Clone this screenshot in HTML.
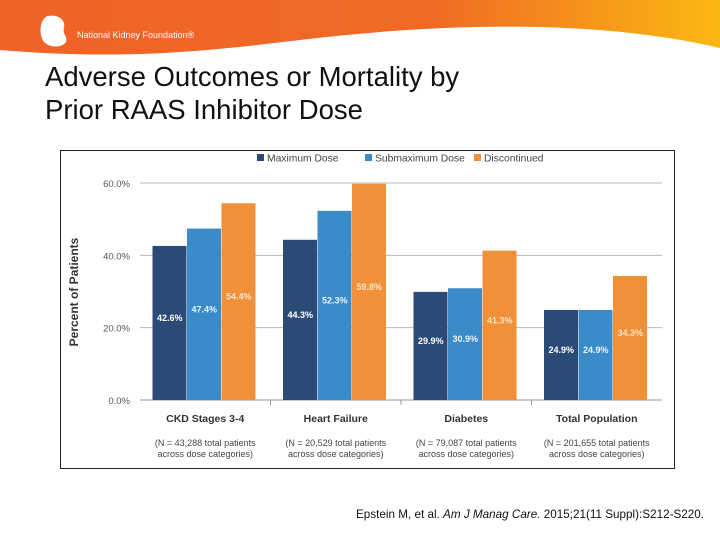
<!DOCTYPE html>
<html><head><meta charset="utf-8"><style>
body{margin:0;width:720px;height:540px;overflow:hidden;background:#fff;font-family:"Liberation Sans",sans-serif;position:relative}
.title{position:absolute;left:45px;top:60px;font-size:27.5px;line-height:33px;color:#111}
.cite{position:absolute;left:356px;top:508px;font-size:11.7px;color:#111}
</style></head><body>
<svg width="720" height="62" style="position:absolute;left:0;top:0">
<defs><linearGradient id="g" x1="0" x2="1"><stop offset="0" stop-color="#ef6326"/><stop offset="0.6" stop-color="#f06a25"/><stop offset="1" stop-color="#fbb812"/></linearGradient></defs>
<path d="M0 0H720V48C600 20 450 22 300 40C200 52 120 60 0 50Z" fill="url(#g)"/>
<path d="M48 16C58 14 66 20 64 28C62 34 68 36 66 42C62 48 50 48 44 42C38 34 40 18 48 16Z" fill="#fff"/>
<text x="77" y="38" font-size="9" fill="#fff" font-family="Liberation Sans, sans-serif">National Kidney Foundation®</text>
</svg>
<div class="title">Adverse Outcomes or Mortality by<br>Prior RAAS Inhibitor Dose</div>
<svg id="chart" width="720" height="540" style="position:absolute;left:0;top:0" font-family="Liberation Sans, sans-serif"></svg>
<div class="cite">Epstein M, et al. <i>Am J Manag Care.</i> 2015;21(11 Suppl):S212-S220.</div>
<script>
const categories=["CKD Stages 3-4","Heart Failure","Diabetes","Total Population"];
const subLabels=["(N = 43,288 total patients","(N = 20,529 total patients","(N = 79,087 total patients","(N = 201,655 total patients"];
const seriesNames=["Maximum Dose","Submaximum Dose","Discontinued"];
const maxDose=[42.6,44.3,29.9,24.9];
const subDose=[47.4,52.3,30.9,24.9];
const discontinued=[54.4,59.8,41.3,34.3];
const yTicks=[0,20,40,60];
const colors=["#2b4a75","#3a8bc8","#f0913a"];
const labelColors=["#fff","#eaf4ff","#fde3c8"];
const svg=document.getElementById('chart');
const NS="http://www.w3.org/2000/svg";
const x0=140,x1=662,yb=400,yt=183,ymax=60;
const y=v=>yb-(v/ymax)*(yb-yt);
const gw=(x1-x0)/categories.length;
function el(t,a,txt){const e=document.createElementNS(NS,t);for(const k in a)e.setAttribute(k,a[k]);if(txt!=null)e.textContent=txt;svg.appendChild(e);return e;}
let f=el('rect',{x:60.5,y:150.5,width:614,height:318,fill:'none',stroke:'#222','stroke-width':1});


yTicks.forEach(t=>{
  let l=el('line',{x1:x0,x2:x1,y1:y(t),y2:y(t),stroke:t?'#b8b8b8':'#999','stroke-width':1});
  
  
  let tx=el('text',{x:130,y:y(t)+4,'text-anchor':'end','font-size':9.5,fill:'#555'},t.toFixed(1)+'%');
  
  
});
let yt2=el('text',{x:78,y:292,'text-anchor':'middle','font-size':12,'font-weight':'bold',fill:'#333',transform:'rotate(-90 78 292)'},'Percent of Patients');


const series=[maxDose,subDose,discontinued];
const bw=34.5;
categories.forEach((c,i)=>{
  const gx=x0+i*gw;
  if(i>0){let tk=el('line',{x1:gx,x2:gx,y1:yb,y2:yb+5,stroke:'#999'});}
  series.forEach((s,j)=>{
    const bx=gx+12.5+j*bw;
    let r=el('rect',{x:bx,y:y(s[i]),width:bw-0.5,height:yb-y(s[i]),fill:colors[j]});
    
    
    let lb=el('text',{x:bx+bw/2,y:(y(s[i])+yb)/2-2,'text-anchor':'middle','font-size':9,'font-weight':'bold',fill:labelColors[j]},s[i].toFixed(1)+'%');
    
    
  });
  const cx=gx+gw/2;
  let ct=el('text',{x:cx,y:422,'text-anchor':'middle','font-size':10.5,'font-weight':'bold',fill:'#333'},c);
  
  
  let s1=el('text',{x:cx,y:446,'text-anchor':'middle','font-size':9,fill:'#444'},subLabels[i]);
  
  
  let s2=el('text',{x:cx,y:457,'text-anchor':'middle','font-size':9,fill:'#444'},'across dose categories)');
  
  
});
const legX=[257,365,474];
seriesNames.forEach((n,j)=>{
  let sq=el('rect',{x:legX[j],y:154,width:7,height:7,fill:colors[j]});
  
  
  let t=el('text',{x:legX[j]+10,y:161.5,'font-size':10.3,fill:'#444'},n);
  
  
});
</script>
</body></html>
